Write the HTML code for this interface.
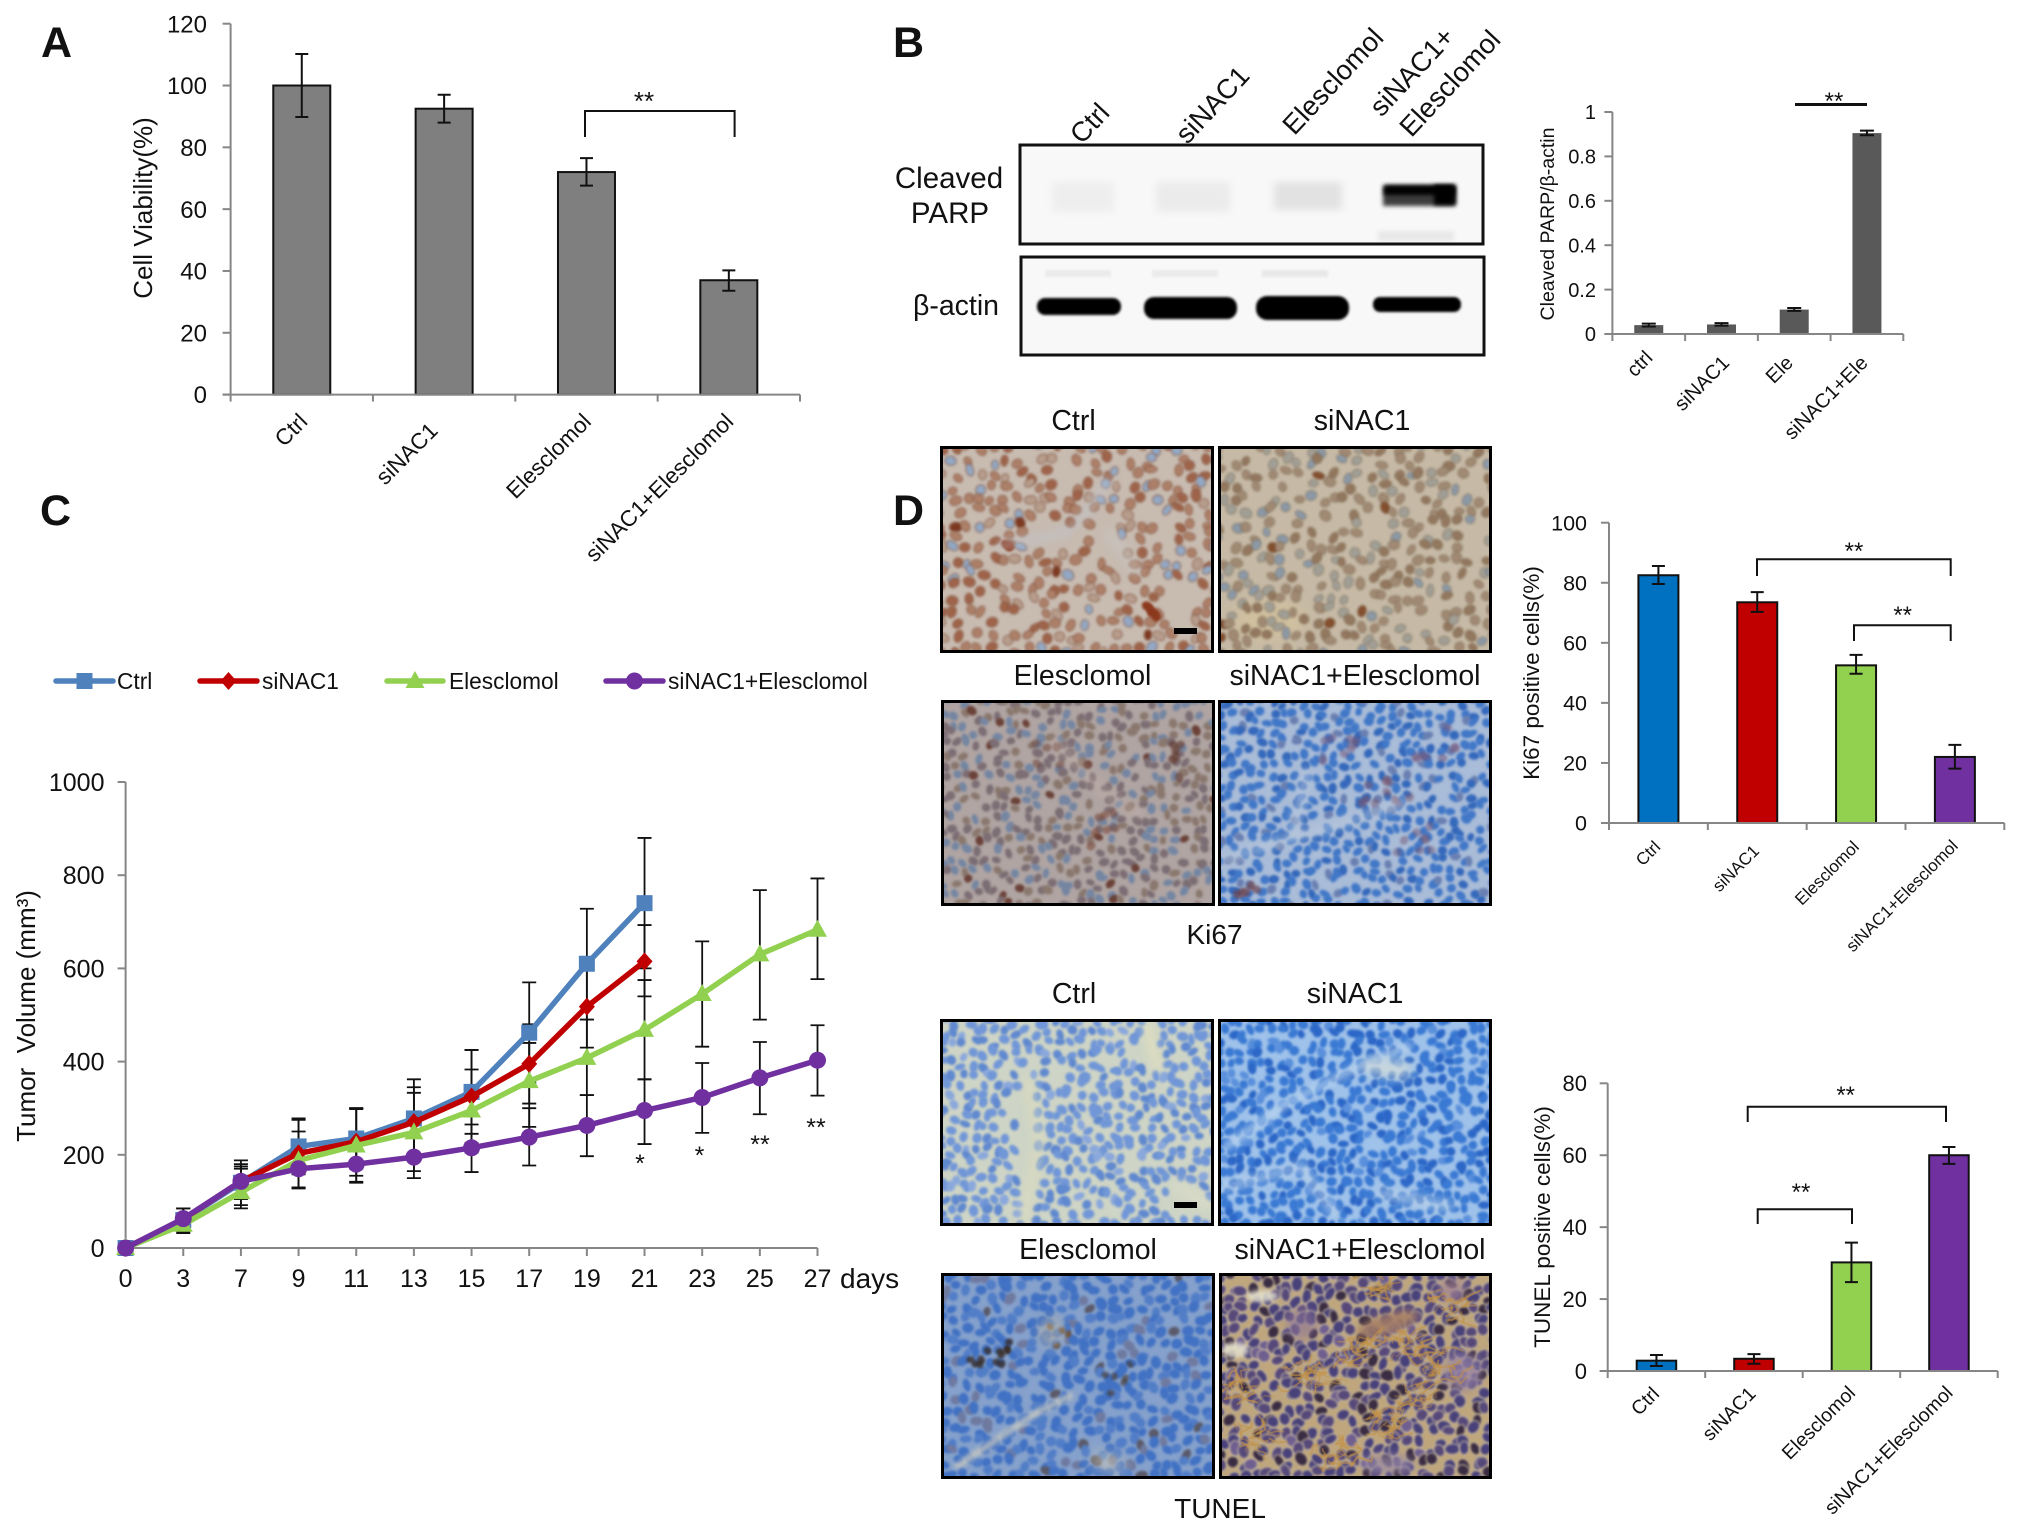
<!DOCTYPE html>
<html lang="en">
<head>
<meta charset="utf-8">
<title>Multi-panel figure: siNAC1 and Elesclomol</title>
<style>
  html, body { margin: 0; padding: 0; background: #fff; }
  #page { position: relative; width: 2020px; height: 1535px; overflow: hidden; background: #fff; font-family: "Liberation Sans", Arial, sans-serif; }
  #page svg { position: absolute; left: 0; top: 0; }
  canvas { position: absolute; box-sizing: border-box; border: 3px solid #000; display: block; }
  text { font-family: "Liberation Sans", Arial, sans-serif; fill: #111; }
</style>
</head>
<body>
<div id="page">
  <canvas id="ki-ctrl" style="left:940px;top:446px;width:274px;height:207px"></canvas>
  <canvas id="ki-si" style="left:1218px;top:446px;width:274px;height:207px"></canvas>
  <canvas id="ki-ele" style="left:941px;top:700px;width:274px;height:206px"></canvas>
  <canvas id="ki-combo" style="left:1218px;top:700px;width:274px;height:206px"></canvas>
  <canvas id="tu-ctrl" style="left:940px;top:1019px;width:274px;height:207px"></canvas>
  <canvas id="tu-si" style="left:1218px;top:1019px;width:274px;height:207px"></canvas>
  <canvas id="tu-ele" style="left:941px;top:1273px;width:274px;height:206px"></canvas>
  <canvas id="tu-combo" style="left:1219px;top:1273px;width:273px;height:206px"></canvas>

  <svg id="fig" width="2020" height="1535" viewBox="0 0 2020 1535" xmlns="http://www.w3.org/2000/svg">
    <defs>
      <filter id="blur1" x="-20%" y="-60%" width="140%" height="220%"><feGaussianBlur stdDeviation="1.3"/></filter>
      <filter id="blur2" x="-30%" y="-60%" width="160%" height="220%"><feGaussianBlur stdDeviation="2.2"/></filter>
      <filter id="blur5" x="-30%" y="-80%" width="160%" height="260%"><feGaussianBlur stdDeviation="4"/></filter>
    </defs>

    <!-- Panel letters -->
    <text x="41" y="57" font-size="43" font-weight="700">A</text>
    <text x="893" y="57" font-size="43" font-weight="700">B</text>
    <text x="40" y="525" font-size="43" font-weight="700">C</text>
    <text x="893" y="525" font-size="43" font-weight="700">D</text>

    <!-- Panel A annotation -->
    <g fill="none" stroke="#111" stroke-width="2">
      <path d="M585 137 V111 H734.6 V137"/>
    </g>
    <text x="644" y="110" font-size="26" text-anchor="middle">**</text>

    <!-- Panel B western blot -->
    <g>
      <rect x="1021" y="146" width="461" height="97" fill="#f8f8f8"/>
      <rect x="1052" y="182" width="62" height="30" fill="#eeeeee" filter="url(#blur5)"/>
      <rect x="1156" y="182" width="74" height="30" fill="#ebebeb" filter="url(#blur5)"/>
      <rect x="1274" y="182" width="68" height="28" fill="#e2e2e2" filter="url(#blur5)"/>
      <rect x="1378" y="231" width="76" height="10" fill="#e8e8e8" filter="url(#blur2)"/>
      <rect x="1383" y="186" width="72" height="20" fill="#3c3c3c" filter="url(#blur2)"/>
      <rect x="1384" y="185" width="70" height="10" fill="#050505" filter="url(#blur2)"/>
      <rect x="1434" y="185" width="22" height="20" fill="#000" filter="url(#blur2)"/>
      <rect x="1020" y="145" width="463" height="99" fill="none" stroke="#111" stroke-width="3"/>
    </g>
    <g>
      <rect x="1021" y="258" width="461" height="96" fill="#f8f8f8"/>
      <rect x="1045" y="270" width="66" height="7" fill="#ebebeb" filter="url(#blur1)"/>
      <rect x="1152" y="270" width="66" height="7" fill="#ebebeb" filter="url(#blur1)"/>
      <rect x="1262" y="270" width="66" height="7" fill="#e8e8e8" filter="url(#blur1)"/>
      <rect x="1037" y="298" width="84" height="17" rx="8" fill="#000" filter="url(#blur1)"/>
      <rect x="1144" y="297" width="93" height="22" rx="10" fill="#000" filter="url(#blur1)"/>
      <rect x="1256" y="296" width="93" height="24" rx="11" fill="#000" filter="url(#blur1)"/>
      <rect x="1373" y="297" width="88" height="15" rx="7" fill="#000" filter="url(#blur1)"/>
      <rect x="1021" y="257" width="463" height="98" fill="none" stroke="#111" stroke-width="3"/>
    </g>
    <text x="949" y="188" font-size="29.5" text-anchor="middle">Cleaved</text>
    <text x="950" y="223" font-size="29.5" text-anchor="middle">PARP</text>
    <text x="956" y="315" font-size="28.5" text-anchor="middle">β-actin</text>
    <text x="1111" y="114" font-size="27.5" text-anchor="end" transform="rotate(-47 1111 114)">Ctrl</text>
    <text x="1251" y="77" font-size="27.5" text-anchor="end" transform="rotate(-47 1251 77)">siNAC1</text>
    <text x="1385" y="39" font-size="27.5" text-anchor="end" transform="rotate(-47 1385 39)">Elesclomol</text>
    <text x="1456" y="38" font-size="27.5" text-anchor="end" transform="rotate(-47 1456 38)">siNAC1+</text>
    <text x="1502" y="41" font-size="27.5" text-anchor="end" transform="rotate(-47 1502 41)">Elesclomol</text>

    <!-- Panel B bar annotation -->
    <rect x="1795" y="103" width="72" height="3" fill="#111"/>
    <text x="1834" y="109" font-size="24" text-anchor="middle">**</text>

    <!-- Panel D labels -->
    <text x="1073.5" y="430" font-size="28.5" text-anchor="middle">Ctrl</text>
    <text x="1362" y="430" font-size="28.5" text-anchor="middle">siNAC1</text>
    <text x="1082.5" y="685" font-size="28.5" text-anchor="middle">Elesclomol</text>
    <text x="1355" y="685" font-size="28.5" text-anchor="middle">siNAC1+Elesclomol</text>
    <text x="1214.5" y="944" font-size="28" text-anchor="middle">Ki67</text>
    <text x="1074" y="1003" font-size="28.5" text-anchor="middle">Ctrl</text>
    <text x="1355" y="1003" font-size="28.5" text-anchor="middle">siNAC1</text>
    <text x="1088" y="1259" font-size="28.5" text-anchor="middle">Elesclomol</text>
    <text x="1360" y="1259" font-size="28.5" text-anchor="middle">siNAC1+Elesclomol</text>
    <text x="1220" y="1518" font-size="28" text-anchor="middle">TUNEL</text>
    <rect x="1174" y="628" width="23" height="6" fill="#000"/>
    <rect x="1174" y="1202" width="23" height="6" fill="#000"/>

    <!-- Ki67 brackets -->
    <path d="M1757 576 V559.3 H1950.7 V576" fill="none" stroke="#111" stroke-width="2"/>
    <path d="M1854 641 V625.3 H1950.7 V641" fill="none" stroke="#111" stroke-width="2"/>
    <text x="1854" y="559" font-size="24" text-anchor="middle">**</text>
    <text x="1902.7" y="623" font-size="24" text-anchor="middle">**</text>

    <!-- TUNEL brackets -->
    <path d="M1747.7 1122 V1106.7 H1946 V1122" fill="none" stroke="#111" stroke-width="2"/>
    <path d="M1757.7 1224 V1209.3 H1852 V1224" fill="none" stroke="#111" stroke-width="2"/>
    <text x="1845.7" y="1103" font-size="24" text-anchor="middle">**</text>
    <text x="1801" y="1200" font-size="24" text-anchor="middle">**</text>

    <!-- Panel C stars -->
    <text x="640" y="1172" font-size="25" text-anchor="middle">*</text>
    <text x="699.5" y="1164" font-size="25" text-anchor="middle">*</text>
    <text x="760" y="1153" font-size="25" text-anchor="middle">**</text>
    <text x="816" y="1136" font-size="25" text-anchor="middle">**</text>
  </svg>
</div>

<script>
/* ---------- Chart data ---------- */
const panelACategories = ['Ctrl', 'siNAC1', 'Elesclomol', 'siNAC1+Elesclomol'];
const panelAValues = [100, 92.5, 72, 37];
const panelAUpper = [110.2, 97, 76.5, 40.2];
const panelALower = [89.8, 88, 67.6, 33.6];
const panelATicks = [0, 20, 40, 60, 80, 100, 120];

const panelBCategories = ['ctrl', 'siNAC1', 'Ele', 'siNAC1+Ele'];
const panelBValues = [0.04, 0.043, 0.11, 0.905];
const panelBUpper = [0.047, 0.049, 0.117, 0.916];
const panelBLower = [0.034, 0.038, 0.104, 0.895];
const panelBTicks = [0, 0.2, 0.4, 0.6, 0.8, 1];

const ki67Categories = ['Ctrl', 'siNAC1', 'Elesclomol', 'siNAC1+Elesclomol'];
const ki67Values = [82.5, 73.5, 52.5, 22];
const ki67Upper = [85.6, 76.9, 56, 26];
const ki67Lower = [79.6, 70.3, 49.7, 18.1];
const ki67Ticks = [0, 20, 40, 60, 80, 100];

const tunelCategories = ['Ctrl', 'siNAC1', 'Elesclomol', 'siNAC1+Elesclomol'];
const tunelValues = [2.87, 3.4, 30.2, 60];
const tunelUpper = [4.45, 4.7, 35.7, 62.3];
const tunelLower = [1.4, 2, 24.7, 57.6];
const tunelTicks = [0, 20, 40, 60, 80];

const tumorDays = ['0', '3', '7', '9', '11', '13', '15', '17', '19', '21', '23', '25', '27'];
const tumorTicks = [0, 200, 400, 600, 800, 1000];
const tumorSeriesNames = ['Ctrl', 'siNAC1', 'Elesclomol', 'siNAC1+Elesclomol'];
const tumorCtrl = [0, 60, 140, 218, 235, 278, 335, 462, 610, 740];
const tumorCtrlUpper = [0, 85, 188, 278, 300, 362, 425, 570, 728, 880];
const tumorCtrlLower = [0, 35, 92, 158, 170, 195, 245, 355, 490, 600];
const tumorSi = [0, 62, 143, 203, 228, 270, 325, 395, 518, 615];
const tumorSiUpper = [0, 85, 175, 275, 300, 345, 425, 480, 610, 693];
const tumorSiLower = [0, 38, 110, 130, 155, 195, 225, 310, 430, 540];
const tumorEle = [0, 50, 120, 188, 220, 248, 295, 358, 408, 468, 545, 630, 683];
const tumorEleUpper = [0, 70, 170, 250, 298, 333, 383, 440, 490, 575, 658, 768, 793];
const tumorEleLower = [0, 32, 85, 128, 142, 165, 205, 260, 328, 362, 432, 490, 577];
const tumorCombo = [0, 63, 143, 170, 180, 195, 215, 238, 263, 295, 323, 365, 403];
const tumorComboUpper = [0, 85, 180, 210, 220, 240, 265, 300, 328, 362, 397, 442, 478];
const tumorComboLower = [0, 40, 105, 128, 140, 150, 163, 177, 197, 223, 247, 287, 327];

/* ---------- Layout ---------- */
const svg = document.getElementById('fig');
const NS = 'http://www.w3.org/2000/svg';
const AXIS_GREY = '#868686';

function shape(tag, attrs, parent) {
  const el = document.createElementNS(NS, tag);
  for (const k in attrs) el.setAttribute(k, attrs[k]);
  (parent || svg).appendChild(el);
  return el;
}
function slug(s) {
  return String(s).toLowerCase().replace(/\+/g, '-plus-').replace(/[^a-z0-9.]+/g, '-');
}

/* ---------- Bar chart ---------- */
function drawBarChart(c) {
  const n = c.categories.length;
  const step = (c.right - c.left) / n;
  const xScale = i => c.left + step * (i + 0.5);
  const yScale = v => c.y0 - (v / c.max) * (c.y0 - c.yTop);
  const g = shape('g', {});
  
  

  c.categories.forEach((cat, i) => {
    const yv = yScale(c.values[i]);
    const bar = shape('rect', {
      x: xScale(i) - c.barWidth / 2, y: yv, width: c.barWidth, height: c.y0 - yv,
      fill: c.colors[i], stroke: c.barStroke, 'stroke-width': c.barStroke === 'none' ? 0 : 2
    }, g);
    
    

    const x = xScale(i), yU = yScale(c.upper[i]), yL = yScale(c.lower[i]);
    const err = shape('path', {
      d: 'M' + (x - c.cap / 2) + ' ' + yU + 'H' + (x + c.cap / 2) + 'M' + x + ' ' + yU + 'V' + yL + 'M' + (x - c.cap / 2) + ' ' + yL + 'H' + (x + c.cap / 2),
      fill: 'none', stroke: '#111', 'stroke-width': 2
    }, g);
    
    

    const lx = x + c.labelShift[i][0], ly = c.labelY + c.labelShift[i][1];
    const lab = shape('text', {
      x: lx, y: ly, 'font-size': c.labelSize, 'text-anchor': 'end',
      transform: 'rotate(-45 ' + lx + ' ' + ly + ')'
    }, g);
    lab.textContent = cat;
    
    
  });

  const yAxis = shape('line', { x1: c.left, x2: c.left, y1: c.yTop, y2: c.y0, stroke: AXIS_GREY, 'stroke-width': 2 }, g);
  
  
  const xAxis = shape('line', { x1: c.left - 8, x2: c.right, y1: c.y0, y2: c.y0, stroke: AXIS_GREY, 'stroke-width': 2 }, g);
  
  

  for (let i = 0; i <= n; i++) {
    const tx = c.left + step * i;
    const t = shape('line', { x1: tx, x2: tx, y1: c.y0, y2: c.y0 + 7, stroke: AXIS_GREY, 'stroke-width': 2 }, g);
    
    
  }
  c.ticks.forEach(v => {
    const y = yScale(v);
    const t = shape('line', { x1: c.left - 8, x2: c.left, y1: y, y2: y, stroke: AXIS_GREY, 'stroke-width': 2 }, g);
    
    
    const lab = shape('text', { x: c.tickRight, y: y + c.tickSize * 0.36, 'font-size': c.tickSize, 'text-anchor': 'end' }, g);
    lab.textContent = v;
    
    
  });

  const title = shape('text', {
    x: c.titleX, y: c.titleY, 'font-size': c.titleSize, 'text-anchor': 'middle',
    transform: 'rotate(-90 ' + c.titleX + ' ' + c.titleY + ')', style: 'white-space:pre'
  }, g);
  title.textContent = c.title;
  
  
}

drawBarChart({
  id: 'viability', categories: panelACategories, values: panelAValues, upper: panelAUpper, lower: panelALower, ticks: panelATicks,
  left: 230.6, right: 800, y0: 394.6, yTop: 23.7, max: 120, barWidth: 57, cap: 13,
  colors: ['#7f7f7f', '#7f7f7f', '#7f7f7f', '#7f7f7f'], barStroke: '#111',
  labelY: 423, labelSize: 22.5, labelShift: [[7, 0], [-5, 9], [6, 0], [6, 0]],
  tickRight: 207, tickSize: 24, title: 'Cell Viability(%)', titleX: 152, titleY: 208, titleSize: 26
});
drawBarChart({
  id: 'parp', categories: panelBCategories, values: panelBValues, upper: panelBUpper, lower: panelBLower, ticks: panelBTicks,
  left: 1612.4, right: 1903.3, y0: 334, yTop: 112, max: 1, barWidth: 29, cap: 14,
  colors: ['#595959', '#595959', '#595959', '#595959'], barStroke: 'none',
  labelY: 362, labelSize: 20, labelShift: [[5, -3], [9, 2], [0, 2], [2, 2]],
  tickRight: 1596, tickSize: 20, title: 'Cleaved PARP/β-actin', titleX: 1554, titleY: 224, titleSize: 19.5
});
drawBarChart({
  id: 'ki67', categories: ki67Categories, values: ki67Values, upper: ki67Upper, lower: ki67Lower, ticks: ki67Ticks,
  left: 1609, right: 2004.3, y0: 823, yTop: 522.7, max: 100, barWidth: 40, cap: 13,
  colors: ['#0070c0', '#c00000', '#92d050', '#7030a0'], barStroke: '#111',
  labelY: 848, labelSize: 17, labelShift: [[3, 0], [3, 4], [4, 0], [4, -1]],
  tickRight: 1587, tickSize: 21.5, title: 'Ki67 positive cells(%)', titleX: 1539, titleY: 673, titleSize: 22.5
});
drawBarChart({
  id: 'tunel', categories: tunelCategories, values: tunelValues, upper: tunelUpper, lower: tunelLower, ticks: tunelTicks,
  left: 1607.7, right: 1997.7, y0: 1371, yTop: 1083.3, max: 80, barWidth: 39.5, cap: 13,
  colors: ['#0070c0', '#c00000', '#92d050', '#7030a0'], barStroke: '#111',
  labelY: 1395, labelSize: 19.5, labelShift: [[4, 0], [3, 0], [5, -1], [5, -1]],
  tickRight: 1587, tickSize: 22, title: 'TUNEL positive cells(%)', titleX: 1550, titleY: 1227, titleSize: 22.5
});

/* ---------- Line chart ---------- */
const tumorFrame = { left: 125.6, right: 817.5, y0: 1248, yTop: 782, max: 1000 };
const tumorX = i => tumorFrame.left + i * (tumorFrame.right - tumorFrame.left) / (tumorDays.length - 1);
const tumorY = v => tumorFrame.y0 - (v / tumorFrame.max) * (tumorFrame.y0 - tumorFrame.yTop);

function drawMarker(kind, x, y, color, parent) {
  if (kind === 'square') return shape('rect', { x: x - 8, y: y - 8, width: 16, height: 16, fill: color }, parent);
  if (kind === 'diamond') return shape('path', { d: 'M' + x + ' ' + (y - 9) + 'L' + (x + 8) + ' ' + y + 'L' + x + ' ' + (y + 9) + 'L' + (x - 8) + ' ' + y + 'Z', fill: color }, parent);
  if (kind === 'triangle') return shape('path', { d: 'M' + x + ' ' + (y - 10) + 'L' + (x + 9.5) + ' ' + (y + 7) + 'L' + (x - 9.5) + ' ' + (y + 7) + 'Z', fill: color }, parent);
  return shape('circle', { cx: x, cy: y, r: 8.5, fill: color }, parent);
}

const tumorStyles = [
  { key: 'ctrl', color: '#4f81bd', marker: 'square', vals: tumorCtrl, up: tumorCtrlUpper, lo: tumorCtrlLower },
  { key: 'sinac1', color: '#c00000', marker: 'diamond', vals: tumorSi, up: tumorSiUpper, lo: tumorSiLower },
  { key: 'elesclomol', color: '#92d050', marker: 'triangle', vals: tumorEle, up: tumorEleUpper, lo: tumorEleLower },
  { key: 'combination', color: '#7030a0', marker: 'circle', vals: tumorCombo, up: tumorComboUpper, lo: tumorComboLower }
];

(function drawTumorChart() {
  const g = shape('g', {});
  
  

  tumorStyles.forEach(s => {
    s.vals.forEach((v, i) => {
      if (i === 0) return;
      const x = tumorX(i), yU = tumorY(s.up[i]), yL = tumorY(s.lo[i]);
      const err = shape('path', {
        d: 'M' + (x - 7) + ' ' + yU + 'H' + (x + 7) + 'M' + x + ' ' + yU + 'V' + yL + 'M' + (x - 7) + ' ' + yL + 'H' + (x + 7),
        fill: 'none', stroke: '#111', 'stroke-width': 1.8
      }, g);
      
      
    });
  });

  const yAxis = shape('line', { x1: tumorFrame.left, x2: tumorFrame.left, y1: tumorFrame.yTop, y2: tumorFrame.y0, stroke: AXIS_GREY, 'stroke-width': 2 }, g);
  
  
  const xAxis = shape('line', { x1: tumorFrame.left - 8, x2: tumorFrame.right, y1: tumorFrame.y0, y2: tumorFrame.y0, stroke: AXIS_GREY, 'stroke-width': 2 }, g);
  
  

  tumorTicks.forEach(v => {
    const y = tumorY(v);
    const t = shape('line', { x1: tumorFrame.left - 8, x2: tumorFrame.left, y1: y, y2: y, stroke: AXIS_GREY, 'stroke-width': 2 }, g);
    
    
    const lab = shape('text', { x: 104.5, y: y + 9, 'font-size': 25, 'text-anchor': 'end' }, g);
    lab.textContent = v;
    
    
  });
  tumorDays.forEach((d, i) => {
    const x = tumorX(i);
    const t = shape('line', { x1: x, x2: x, y1: tumorFrame.y0, y2: tumorFrame.y0 + 8, stroke: AXIS_GREY, 'stroke-width': 2 }, g);
    
    
    const lab = shape('text', { x: x, y: 1287, 'font-size': 25, 'text-anchor': 'middle' }, g);
    lab.textContent = d;
    
    
  });

  const days = shape('text', { x: 840, y: 1288, 'font-size': 28 }, g);
  days.textContent = 'days';
  
  

  const title = shape('text', { x: 35, y: 1016, 'font-size': 26, 'text-anchor': 'middle', transform: 'rotate(-90 35 1016)', style: 'white-space:pre' }, g);
  title.textContent = 'Tumor  Volume (mm³)';
  
  

  tumorStyles.forEach(s => {
    const sg = shape('g', {}, g);
    
    
    const pts = s.vals.map((v, i) => tumorX(i) + ',' + tumorY(v)).join(' ');
    const line = shape('polyline', { points: pts, fill: 'none', stroke: s.color, 'stroke-width': 5.5, 'stroke-linejoin': 'round' }, sg);
    
    
    s.vals.forEach((v, i) => {
      const m = drawMarker(s.marker, tumorX(i), tumorY(v), s.color, sg);
      
      
    });
  });

  /* legend */
  const legendX = [[56, 113, 117], [200, 257, 262], [387, 443, 449], [606, 663, 668]];
  tumorSeriesNames.forEach((name, i) => {
    const s = tumorStyles[i];
    const [x1, x2, tx] = legendX[i];
    const lg = shape('g', {}, g);
    
    
    shape('line', { x1: x1, x2: x2, y1: 681, y2: 681, stroke: s.color, 'stroke-width': 5.5, 'stroke-linecap': 'round' }, lg);
    drawMarker(s.marker, (x1 + x2) / 2, 681, s.color, lg);
    const t = shape('text', { x: tx, y: 689, 'font-size': 22.7 }, lg);
    t.textContent = name;
  });
})();

/* ---------- Micrograph textures (decorative, not chart data) ---------- */
function rng(seed) {
  return function () {
    seed |= 0; seed = seed + 0x6D2B79F5 | 0;
    let t = Math.imul(seed ^ seed >>> 15, 1 | seed);
    t = t + Math.imul(t ^ t >>> 7, 61 | t) ^ t;
    return ((t ^ t >>> 14) >>> 0) / 4294967296;
  };
}
function tissue(id, o) {
  const c = document.getElementById(id);
  const W = c.clientWidth, H = c.clientHeight;
  c.width = W; c.height = H;
  const ctx = c.getContext('2d');
  const r = rng(o.seed);
  ctx.fillStyle = o.bg;
  ctx.fillRect(0, 0, W, H);
  (o.under || []).forEach(b => {
    ctx.filter = 'blur(' + b.blur + 'px)';
    ctx.fillStyle = b.color;
    ctx.beginPath();
    ctx.ellipse(b.x * W, b.y * H, b.rx * W, b.ry * H, b.rot || 0, 0, 6.3);
    ctx.fill();
  });
  ctx.filter = 'blur(0.8px)';
  const skip = (x, y) => (o.gaps || []).some(g => {
    const dx = (x / W - g[0]) / g[2], dy = (y / H - g[1]) / g[3];
    return dx * dx + dy * dy < 1;
  });
  for (let y = 0; y < H + o.step; y += o.step) {
    for (let x = 0; x < W + o.step; x += o.step) {
      if (r() > o.fill) continue;
      const cx = x + (r() - 0.5) * o.step * 0.8, cy = y + (r() - 0.5) * o.step * 0.8;
      const u = r();
      const rot = r() * 3.14, a = o.size * (0.75 + r() * 0.35), b = o.size * (1.0 + r() * 0.4);
      let acc = 0, col = o.nuclei[0][0];
      for (const [cc, w] of o.nuclei) { acc += w; if (u <= acc) { col = cc; break; } }
      if (skip(cx, cy)) continue;
      if (o.halo) {
        ctx.fillStyle = o.halo;
        ctx.beginPath();
        ctx.ellipse(cx, cy, a + 1.2, b + 1.2, rot, 0, 6.3);
        ctx.fill();
      }
      ctx.fillStyle = col;
      ctx.beginPath();
      ctx.ellipse(cx, cy, a, b, rot, 0, 6.3);
      ctx.fill();
      if (o.rim) {
        ctx.strokeStyle = o.rim;
        ctx.lineWidth = 1.1;
        ctx.stroke();
      }
    }
  }
  (o.clusters || []).forEach(k => {
    ctx.filter = 'blur(0.8px)';
    ctx.fillStyle = k.color;
    for (let i = 0; i < k.n; i++) {
      ctx.beginPath();
      ctx.ellipse(k.x * W + (r() - 0.5) * 2 * k.rx * W, k.y * H + (r() - 0.5) * 2 * k.ry * H, k.size, k.size * 1.2, r() * 3, 0, 6.3);
      ctx.fill();
    }
  });
  (o.streaks || []).forEach(s => {
    ctx.filter = 'blur(' + s.blur + 'px)';
    ctx.strokeStyle = s.color;
    ctx.lineWidth = s.w;
    ctx.lineCap = 'round';
    ctx.beginPath();
    s.pts.forEach((p, i) => { const px = p[0] * W, py = p[1] * H; if (i) ctx.lineTo(px, py); else ctx.moveTo(px, py); });
    ctx.stroke();
  });
  (o.blobs || []).forEach(b => {
    ctx.filter = 'blur(' + b.blur + 'px)';
    ctx.fillStyle = b.color;
    ctx.beginPath();
    ctx.ellipse(b.x * W, b.y * H, b.rx * W, b.ry * H, b.rot || 0, 0, 6.3);
    ctx.fill();
  });
  (o.fibers || []).forEach(f => {
    ctx.filter = 'blur(0.5px)';
    ctx.strokeStyle = f.color;
    for (let i = 0; i < f.count; i++) {
      const a = f.pts[Math.floor(r() * f.pts.length)];
      let x = a[0] * W + (r() - 0.5) * 34, y = a[1] * H + (r() - 0.5) * 26;
      ctx.lineWidth = 0.7 + r() * 1.2;
      ctx.beginPath();
      ctx.moveTo(x, y);
      for (let k = 0; k < 3; k++) { x += (r() - 0.5) * 22 + 3; y += (r() - 0.5) * 14 - 2; ctx.lineTo(x, y); }
      ctx.stroke();
    }
  });
  ctx.filter = 'none';
}

tissue('ki-ctrl', { seed: 11, bg: '#c8bbb0', step: 12.5, size: 4.6, fill: 0.8, rim: 'rgba(120,70,50,.55)',
  nuclei: [['#ad8069', 0.44], ['#9f644a', 0.22], ['#b79d8c', 0.18], ['#93a8c4', 0.14], ['#7e3a22', 0.02]],
  gaps: [[.42, .45, .1, .07], [.62, .5, .07, .08], [.45, .12, .06, .08]],
  streaks: [{ color: 'rgba(190,198,208,.45)', w: 10, blur: 4, pts: [[.22, .48], [.45, .42], [.55, .3], [.62, .14]] }, { color: 'rgba(200,200,200,.45)', w: 13, blur: 5, pts: [[.62, .42], [.72, .6]] }],
  clusters: [{ x: .78, y: .81, rx: .02, ry: .03, n: 4, color: '#8c3a1e', size: 4.5 }, { x: .24, y: .5, rx: .01, ry: .03, n: 3, color: '#8f3a1e', size: 4 }] });
tissue('ki-si', { seed: 23, bg: '#c6baa6', step: 12.5, size: 4.6, fill: 0.8, rim: 'rgba(105,85,65,.4)',
  nuclei: [['#a18a74', 0.38], ['#93785f', 0.24], ['#a19f96', 0.22], ['#8c99a6', 0.13], ['#84502f', 0.03]],
  under: [{ x: .18, y: .85, rx: .14, ry: .1, color: 'rgba(218,198,155,.55)', blur: 8 }] });
tissue('ki-ele', { seed: 37, bg: '#b0a5a3', step: 10.5, size: 4.1, fill: 0.92,
  nuclei: [['#7c6e74', 0.36], ['#8a786e', 0.26], ['#7586a2', 0.34], ['#6b4238', 0.04]],
  streaks: [{ color: 'rgba(200,180,170,.4)', w: 11, blur: 5, pts: [[.42, .2], [.6, .45], [.72, .55]] }],
  clusters: [{ x: .4, y: .25, rx: .06, ry: .06, n: 5, color: 'rgba(115,75,65,.6)', size: 4 }, { x: .58, y: .65, rx: .06, ry: .1, n: 7, color: 'rgba(125,75,60,.6)', size: 4 }, { x: .9, y: .3, rx: .05, ry: .1, n: 6, color: 'rgba(100,60,50,.65)', size: 4 }] });
tissue('ki-combo', { seed: 41, bg: '#a9bcd8', step: 10.5, size: 4.2, fill: 0.94,
  nuclei: [['#4278c8', 0.55], ['#3569bc', 0.3], ['#6a80b2', 0.15]],
  streaks: [{ color: 'rgba(186,202,222,.65)', w: 10, blur: 4, pts: [[.27, .65], [.32, .35]] }, { color: 'rgba(188,204,222,.6)', w: 9, blur: 4, pts: [[.02, .78], [.2, .7], [.5, .58], [.68, .5]] }],
  clusters: [{ x: .45, y: .22, rx: .08, ry: .07, n: 8, color: 'rgba(115,90,125,.55)', size: 4 }, { x: .62, y: .42, rx: .1, ry: .09, n: 10, color: 'rgba(120,85,110,.55)', size: 4 }, { x: .8, y: .2, rx: .08, ry: .08, n: 8, color: 'rgba(115,90,125,.55)', size: 4 }, { x: .72, y: .68, rx: .07, ry: .08, n: 8, color: 'rgba(115,90,120,.5)', size: 4 }, { x: .1, y: .93, rx: .04, ry: .03, n: 5, color: 'rgba(110,70,80,.7)', size: 4 }] });
tissue('tu-ctrl', { seed: 53, bg: '#cfd5c6', step: 10.5, size: 4.4, fill: 0.92,
  nuclei: [['#7197d8', 0.6], ['#6089d0', 0.3], ['#8aa8dc', 0.1]],
  gaps: [[.31, .62, .035, .42], [.77, .12, .04, .14], [.9, .9, .08, .08]],
  streaks: [{ color: 'rgba(222,222,190,.55)', w: 11, blur: 4, pts: [[.3, 1], [.36, .6], [.32, .3]] }, { color: 'rgba(228,225,190,.7)', w: 10, blur: 4, pts: [[.76, .02], [.8, .22]] }, { color: 'rgba(222,222,200,.55)', w: 14, blur: 5, pts: [[.88, .82], [.98, .9]] }] });
tissue('tu-si', { seed: 67, bg: '#9fc2ea', step: 10, size: 4.4, fill: 0.95,
  nuclei: [['#3b7ad4', 0.6], ['#2d68c8', 0.3], ['#5a90dc', 0.1]],
  streaks: [{ color: 'rgba(190,215,240,.7)', w: 8, blur: 3, pts: [[.02, .62], [.25, .4], [.55, .2], [.7, .12]] }, { color: 'rgba(222,226,215,.75)', w: 16, blur: 6, pts: [[.56, .22], [.68, .24]] }, { color: 'rgba(195,215,235,.65)', w: 9, blur: 4, pts: [[.02, .82], [.3, .72], [.42, .95]] }, { color: 'rgba(200,218,232,.65)', w: 10, blur: 5, pts: [[.6, .85], [.85, .92]] }] });
tissue('tu-ele', { seed: 79, bg: '#85a1cc', step: 11, size: 4.8, fill: 0.93,
  nuclei: [['#4272c4', 0.62], ['#527ec8', 0.25], ['#6f7aa0', 0.1], ['#5a5a6a', 0.03]],
  streaks: [{ color: 'rgba(212,208,190,.8)', w: 6, blur: 2.5, pts: [[.05, .95], [.35, .68], [.47, .6]] }, { color: 'rgba(220,210,180,.55)', w: 18, blur: 7, pts: [[.58, .92], [.64, .95]] }],
  clusters: [{ x: .15, y: .38, rx: .1, ry: .09, n: 12, color: 'rgba(55,42,32,.75)', size: 3.4 }, { x: .42, y: .25, rx: .05, ry: .12, n: 4, color: 'rgba(110,70,30,.8)', size: 3 }, { x: .68, y: .52, rx: .08, ry: .08, n: 6, color: 'rgba(70,60,55,.65)', size: 3.2 }],
  blobs: [{ x: .4, y: .28, rx: .05, ry: .08, color: 'rgba(190,180,160,.5)', blur: 4 }] });
tissue('tu-combo', { seed: 97, bg: '#bfa67c', step: 11, size: 5.2, fill: 0.9, halo: 'rgba(214,200,170,.7)',
  nuclei: [['#48417a', 0.46], ['#56497a', 0.3], ['#3a2c42', 0.18], ['#6f5f90', 0.06]],
  blobs: [{ x: .62, y: .24, rx: .12, ry: .05, rot: -0.3, color: 'rgba(165,125,100,.85)', blur: 3 }, { x: .62, y: .94, rx: .1, ry: .05, color: 'rgba(150,135,165,.7)', blur: 4 }, { x: .9, y: .48, rx: .07, ry: .1, color: 'rgba(150,130,165,.7)', blur: 5 }, { x: .3, y: .24, rx: .06, ry: .08, color: 'rgba(140,115,150,.6)', blur: 5 }, { x: .15, y: .1, rx: .06, ry: .03, color: 'rgba(228,224,206,.85)', blur: 2 }, { x: .05, y: .37, rx: .05, ry: .04, color: 'rgba(228,224,206,.85)', blur: 2 }, { x: .86, y: .07, rx: .05, ry: .06, color: 'rgba(160,130,150,.7)', blur: 4 }],
  fibers: [{ color: 'rgba(195,145,70,.75)', count: 210, pts: [[.05, .58], [.3, .52], [.42, .9], [.6, .75], [.72, .62], [.8, .45], [.85, .15], [.55, .05], [.7, .35], [.5, .38], [.12, .82]] }] });
</script>
</body>
</html>
